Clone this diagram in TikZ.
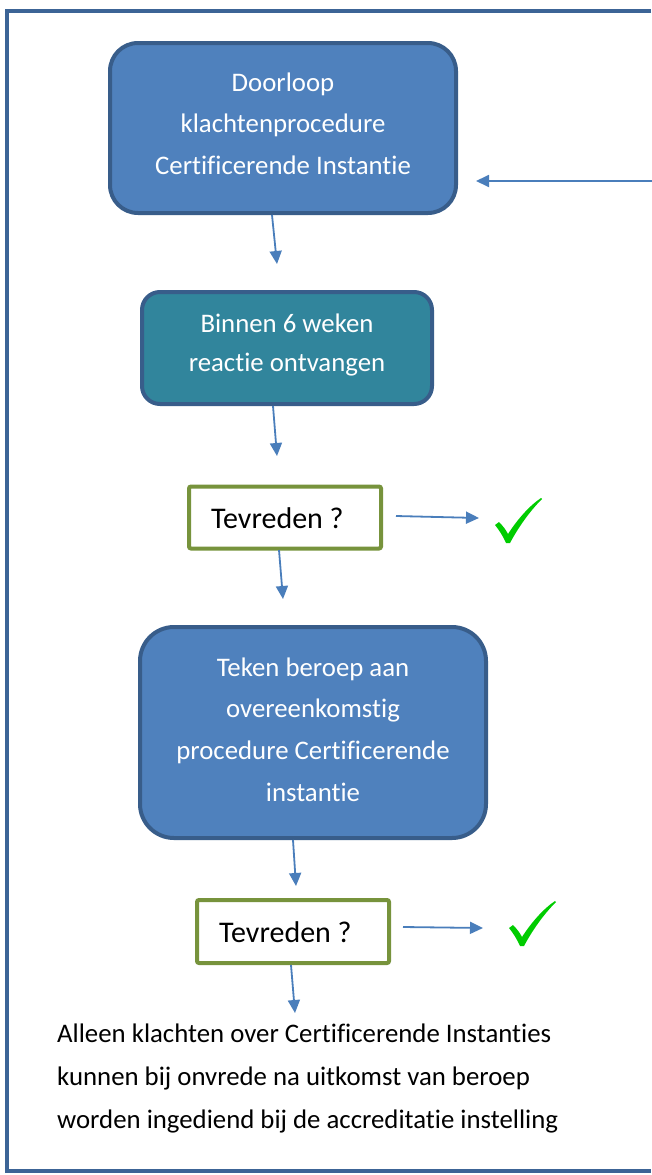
\documentclass[tikz,border=0pt]{standalone}
\usepackage{fontspec}
\setmainfont{Carlito}[Ligatures={NoCommon,NoContextual}]
\usetikzlibrary{arrows.meta}
\definecolor{boxblue}{HTML}{4F81BD}
\definecolor{boxteal}{HTML}{31859C}
\definecolor{edgeblue}{HTML}{385D8A}
\definecolor{framecol}{HTML}{3C6496}
\definecolor{olivegreen}{HTML}{77933C}
\definecolor{arrowcol}{HTML}{4A7EBB}
\definecolor{checkgreen}{HTML}{00CC00}
\tikzset{
  procbox/.style={draw=edgeblue, fill=boxblue, line width=4, inner sep=0},
  tealbox/.style={draw=edgeblue, fill=boxteal, line width=4, inner sep=0, rounded corners=18},
  askbox/.style={draw=olivegreen, fill=white, line width=4, inner sep=0, rounded corners=2,
                 minimum width=192, minimum height=62},
  whitetext/.style={text=white, align=center, inner sep=0},
  asktext/.style={text=black, inner sep=0, anchor=west, font=\fontsize{30}{35}\selectfont},
  flowarrow/.style={draw=arrowcol, line width=1.8, -{Triangle[length=13,width=12]}},
  checkmark/.style={fill=checkgreen},
}
\begin{document}
\begin{tikzpicture}[x=1pt,y=-1pt]
\useasboundingbox (0,0) rectangle (651,1175);
% frame (right side lies outside the picture)
\coordinate (fr1) at (651,11);
\coordinate (fr2) at (7,11);
\coordinate (fr3) at (7,1171);
\coordinate (fr4) at (651,1171);
\draw[framecol, line width=4, line join=miter] (fr1) -- (fr2) -- (fr3) -- (fr4);

% box 1
\node[procbox, rounded corners=28, minimum width=346, minimum height=170] (b1) at (283,128) {};
\node[whitetext, font=\fontsize{26.8}{41.5}\selectfont] (t1) at (283,123.5)
  {Doorloop\\klachtenprocedure\\Certificerende Instantie};

% box 2
\node[tealbox, minimum width=290, minimum height=112] (b2) at (287,348) {};
\node[whitetext, font=\fontsize{26.8}{38.3}\selectfont] (t2) at (287,345)
  {Binnen 6 weken\\reactie ontvangen};

% question 1
\node[askbox] (q1) at (285,517.5) {};
\node[asktext] (qt1) at (211,518) {Tevreden ?};

% box 4
\node[procbox, rounded corners=34, minimum width=346, minimum height=211] (b4) at (313,732.5) {};
\node[whitetext, font=\fontsize{26.8}{41.7}\selectfont] (t4) at (313,729.5)
  {Teken beroep aan\\overeenkomstig\\procedure Certificerende\\instantie};

% question 2
\node[askbox, minimum height=63] (q2) at (293,931.5) {};
\node[asktext] (qt2) at (219,932) {Tevreden ?};

% bottom text
\node[text=black, align=left, anchor=west, inner sep=0, font=\fontsize{26.8}{43}\selectfont] (note) at (57,1078)
  {Alleen klachten over Certificerende Instanties\\kunnen bij onvrede na uitkomst van beroep\\worden ingediend bij de accreditatie instelling};

% arrow end points
\coordinate (in1) at (680,181);
\coordinate (in1e) at (476,181);
\coordinate (a1s) at (272,215);
\coordinate (a1e) at (277,264);
\coordinate (a2s) at (273,406);
\coordinate (a2e) at (277,456);
\coordinate (c1s) at (396,516);
\coordinate (c1e) at (479,518);
\coordinate (a3s) at (279,550);
\coordinate (a3e) at (283,599);
\coordinate (a4s) at (293,840);
\coordinate (a4e) at (296,886);
\coordinate (c2s) at (403,927);
\coordinate (c2e) at (483,928);
\coordinate (a5s) at (291,965);
\coordinate (a5e) at (295,1013);

\draw[flowarrow] (in1) -- (in1e);
\draw[flowarrow] (a1s) -- (a1e);
\draw[flowarrow] (a2s) -- (a2e);
\draw[flowarrow] (c1s) -- (c1e);
\draw[flowarrow] (a3s) -- (a3e);
\draw[flowarrow] (a4s) -- (a4e);
\draw[flowarrow] (c2s) -- (c2e);
\draw[flowarrow] (a5s) -- (a5e);

% check marks
\foreach \cx/\cy in {495/498, 509/901} {
  \fill[checkmark, shift={(\cx,\cy)}]
    (0,27) -- (4,24) .. controls (8,28) and (11,32) .. (13,36)
    .. controls (22,22) and (34,8) .. (46,0) -- (47,1)
    .. controls (34,14) and (23,30) .. (15,45) -- (11,45)
    .. controls (8,38) and (4,32) .. (0,27) -- cycle;
}
\end{tikzpicture}
\end{document}
